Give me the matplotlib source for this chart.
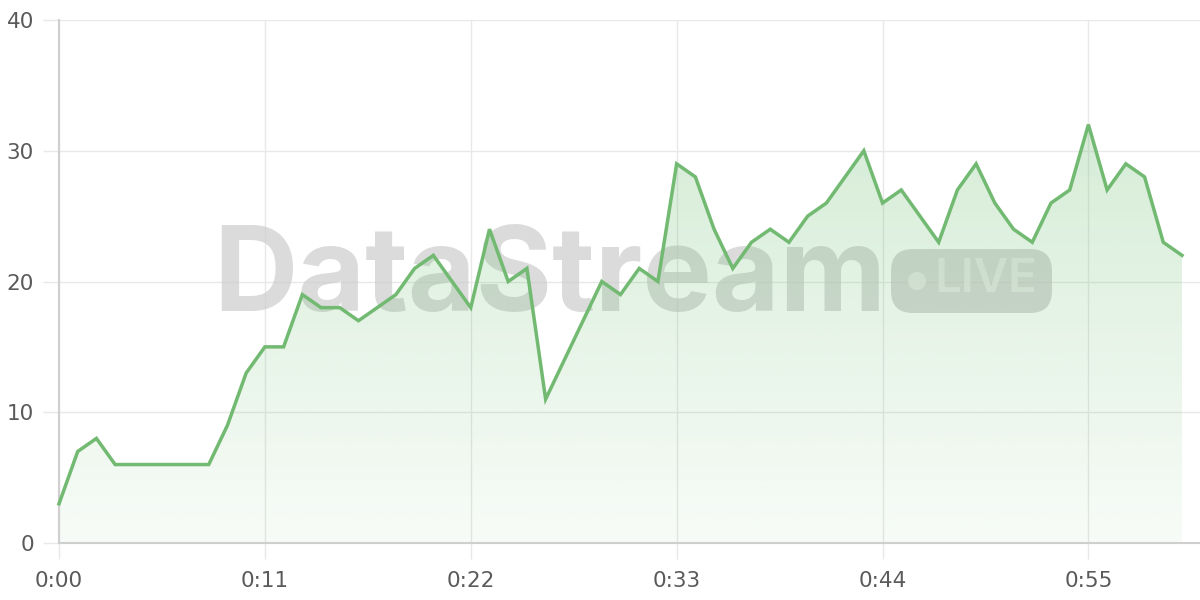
import matplotlib
matplotlib.use('Agg')
import matplotlib.pyplot as plt
import numpy as np
from matplotlib.patches import FancyBboxPatch, Circle, Polygon
from matplotlib.transforms import IdentityTransform

minutes = list(range(61))
values = [3, 7, 8, 6, 6, 6, 6, 6, 6, 9, 13, 15, 15, 19, 18, 18, 17, 18, 19, 21,
          22, 20, 18, 24, 20, 21, 11, 14, 17, 20, 19, 21, 20, 29, 28, 24, 21, 23, 24, 23,
          25, 26, 28, 30, 26, 27, 25, 23, 27, 29, 26, 24, 23, 26, 27, 32, 27, 29, 28, 23,
          22]
tick_pos = [0, 11, 22, 33, 44, 55]
tick_labels = ['0:00', '0:11', '0:22', '0:33', '0:44', '0:55']
y_ticks = [0, 10, 20, 30, 40]

line_color = '#72b972'
grid_color = '#e8e8e8'
text_color = '#5a5a5a'

plt.rcParams['font.family'] = ['DejaVu Sans']

fig = plt.figure(figsize=(12, 6), dpi=100)
ax = fig.add_axes([59 / 1200, 57 / 600, 1141 / 1200, 523 / 600])
ax.set_xlim(0, 1141 / (1123 / 60))
ax.set_ylim(0, 40)

for s in ['top', 'right']:
    ax.spines[s].set_visible(False)
for s in ['left', 'bottom']:
    ax.spines[s].set_color('#cfcfcf')
    ax.spines[s].set_linewidth(1.5)

ax.set_xticks(tick_pos)
ax.set_xticklabels(tick_labels)
ax.set_yticks(y_ticks)
ax.tick_params(axis='both', length=11.5, color=grid_color, width=1,
               labelsize=15.5, labelcolor=text_color)
ax.tick_params(axis='x', pad=9)
ax.tick_params(axis='y', pad=6.5)
ax.grid(True, color=grid_color, linewidth=1)
ax.set_axisbelow(True)

# watermark
ax.text(0.43, 0.503, 'DataStream', transform=ax.transAxes, ha='center', va='center',
        fontsize=84, fontweight='bold', color='#cccccc', alpha=0.7,
        family=['Inter', 'DejaVu Sans'], zorder=1)
badge = FancyBboxPatch((891, 287), 161, 64, boxstyle='round,pad=0,rounding_size=22',
                       transform=IdentityTransform(), facecolor='#c8c8c8', alpha=0.7,
                       edgecolor='none', zorder=1, clip_on=False)
ax.add_patch(badge)
dot = Circle((917, 319), 9, transform=IdentityTransform(),
             facecolor='#ececec', alpha=0.8, edgecolor='none', zorder=1.5, clip_on=False)
ax.add_patch(dot)
ax.text(986 / 1200, 1 - 280 / 600, 'LIVE', transform=fig.transFigure, ha='center',
        va='center', fontsize=34, fontweight='semibold', color='#ececec', alpha=0.8,
        family=['Inter', 'DejaVu Sans'], zorder=1.5)

# gradient fill under line
grad = np.linspace(0.05, 0.27, 256).reshape(-1, 1)
rgba = np.zeros((256, 1, 4))
rgba[..., 0] = 0x66 / 255
rgba[..., 1] = 0xbb / 255
rgba[..., 2] = 0x6a / 255
rgba[..., 3] = grad
img = ax.imshow(rgba, extent=(minutes[0], minutes[-1], 0, max(values)),
                origin='lower', aspect='auto', zorder=2)
verts = [(minutes[0], 0)] + list(zip(minutes, values)) + [(minutes[-1], 0)]
clip = Polygon(verts, closed=True, facecolor='none', edgecolor='none',
               transform=ax.transData)
ax.add_patch(clip)
img.set_clip_path(clip)

ax.plot(minutes, values, color=line_color, linewidth=2.5, zorder=3,
        solid_joinstyle='miter', clip_on=False)

fig.savefig('out.png', dpi=100)
